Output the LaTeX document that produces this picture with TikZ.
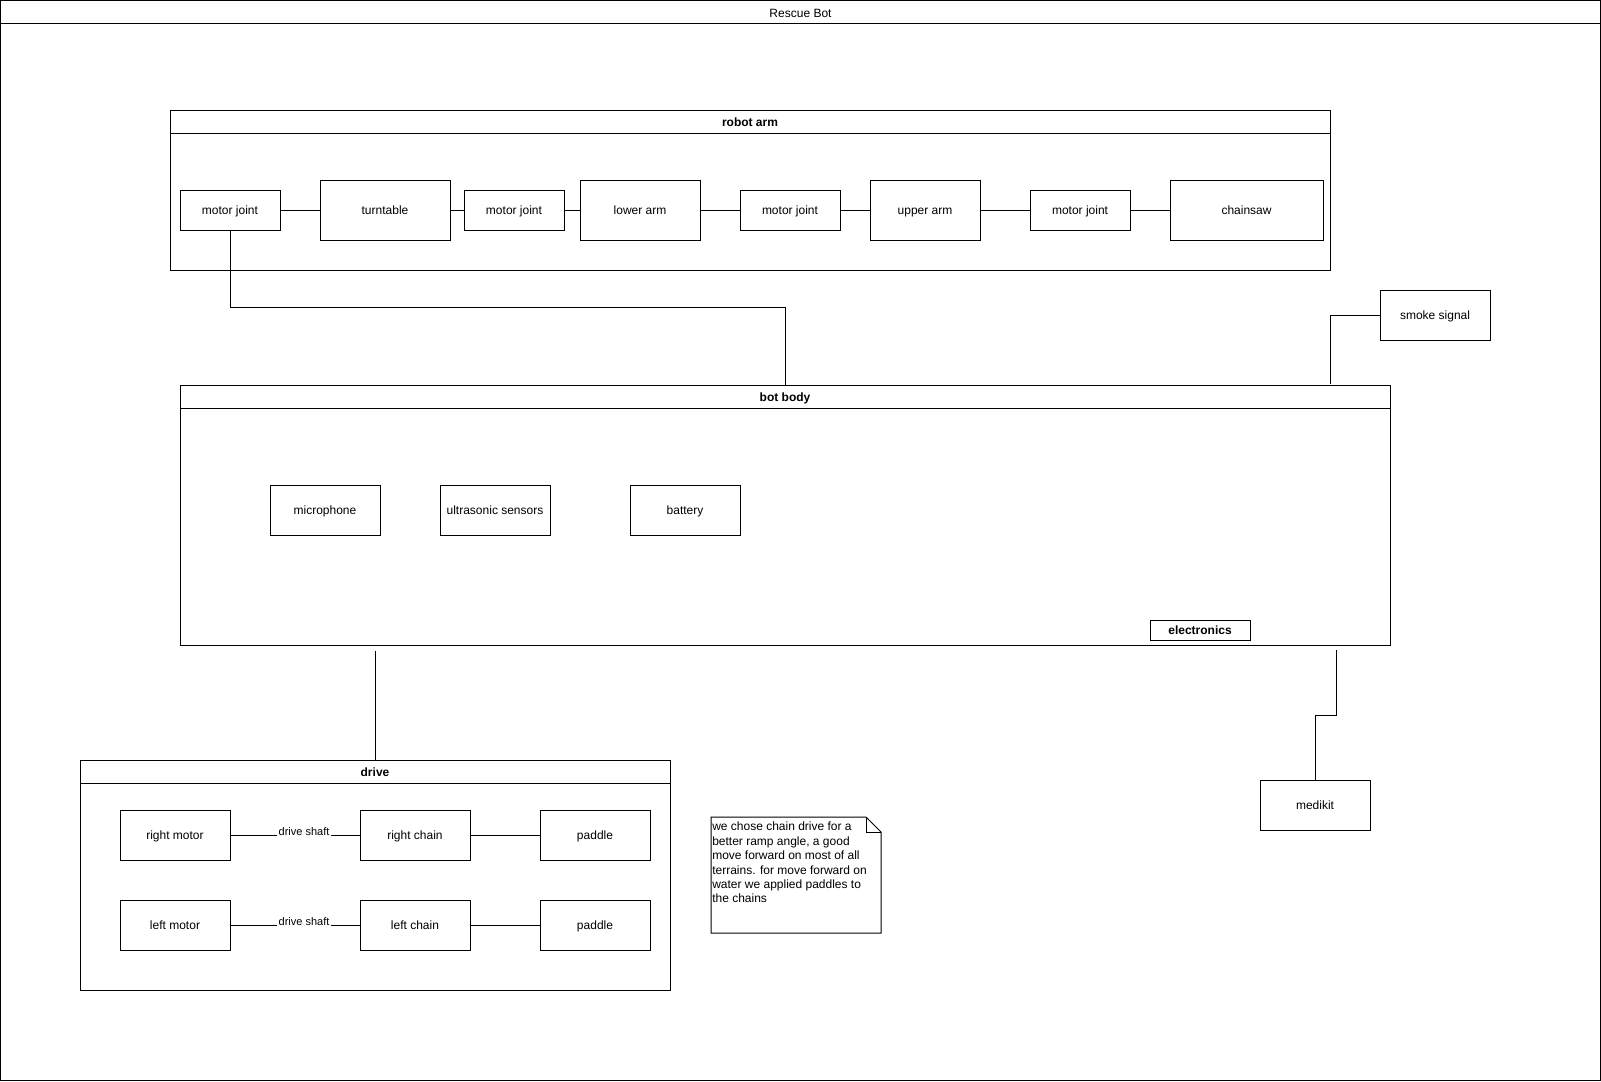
\documentclass[tikz,border=0pt]{standalone}
\usepackage{fontspec}
\setmainfont{Liberation Sans}
\begin{document}
\begin{tikzpicture}[x=0.75pt,y=-0.75pt,
  every node/.style={font=\fontsize{9}{10.8}\selectfont, inner sep=0pt},
  sz/.style 2 args={minimum width=#1*0.75pt, minimum height=#2*0.75pt},
  box/.style={draw, line width=0.75pt, rectangle, align=center,
              text height=7.7pt, text depth=0.5pt},
  joint/.style={box, sz={100}{40}},
  part/.style={box, sz={110}{50}},
  head/.style={box, anchor=north, text height=8.6pt, text depth=0.4pt,
               font=\fontsize{9}{10.8}\selectfont\bfseries},
  link/.style={line width=0.75pt},
  shaft/.style={fill=white, inner sep=1pt, anchor=south, yshift=-2pt,
                font=\fontsize{8.25}{9.9}\selectfont}
]
\useasboundingbox (0,0) rectangle (1601,1081);

% outer frame with title bar
\node[box, sz={1600}{1080}] (frame) at (800.5,540.5) {};
\node[box, anchor=north, sz={1600}{23}, text height=8.6pt, text depth=0.4pt] (framehead) at (frame.north) {Rescue Bot};

% robot arm container
\node[box, sz={1160}{160}] (arm) at (750,190) {};
\node[head, sz={1160}{23}] (armhead) at (arm.north) {robot arm};
\node[joint] (mj1) at (230,210) {motor joint};
\node[box, sz={130}{60}] (turn) at (385,210) {turntable};
\node[joint] (mj2) at (514,210) {motor joint};
\node[box, sz={120}{60}] (lower) at (640,210) {lower arm};
\node[joint] (mj3) at (790,210) {motor joint};
\node[box, sz={110}{60}] (upper) at (925,210) {upper arm};
\node[joint] (mj4) at (1080,210) {motor joint};
\node[box, sz={153}{60}] (saw) at (1246.5,210) {chainsaw};
\draw[link] (mj1) -- (turn);
\draw[link] (turn) -- (mj2);
\draw[link] (mj2) -- (lower);
\draw[link] (lower) -- (mj3);
\draw[link] (mj3) -- (upper);
\draw[link] (upper) -- (mj4);
\draw[link] (mj4) -- (saw);

% bot body container
\node[box, sz={1210}{260}] (body) at (785,515) {};
\node[head, sz={1210}{23}] (bodyhead) at (body.north) {bot body};
\node[part] (mic) at (325,510) {microphone};
\node[part] (ultra) at (495,510) {ultrasonic sensors};
\node[part] (bat) at (685,510) {battery};
\node[box, sz={100}{20}, font=\fontsize{9}{10.8}\selectfont\bfseries] (elec) at (1200,630) {electronics};

% arm mounted on the body
\draw[link] (mj1.south) -- ++(0,77) -| (body.north);

% smoke signal
\node[part] (smoke) at (1435,315) {smoke signal};
\coordinate (smokeend) at (1330,384);
\draw[link] (smoke.west) -| (smokeend);

% medikit
\node[part] (medi) at (1315,805) {medikit};
\coordinate (mediend) at (1336,650);
\draw[link] (mediend) -- (1336,715) -| (medi.north);

% drive container
\node[box, sz={590}{230}] (drive) at (375,875) {};
\node[head, sz={590}{23}] (drivehead) at (drive.north) {drive};
\coordinate (driveend) at (375,651);
\draw[link] (driveend) -- (drive.north);

\node[part] (rmotor) at (175,835) {right motor};
\node[part] (rchain) at (415,835) {right chain};
\node[part] (rpad) at (595,835) {paddle};
\node[part] (lmotor) at (175,925) {left motor};
\node[part] (lchain) at (415,925) {left chain};
\node[part] (lpad) at (595,925) {paddle};
\draw[link] (rmotor) -- (rchain) node[shaft, pos=0.57] (ds1) {drive shaft};
\draw[link] (lmotor) -- (lchain) node[shaft, pos=0.57] (ds2) {drive shaft};
\draw[link] (rchain) -- (rpad);
\draw[link] (lchain) -- (lpad);

% note with folded corner
\draw[link] (711,817) -- (866,817) -- (881,832) -- (881,933) -- (711,933) -- cycle;
\draw[link] (866,817) -- (866,832) -- (881,832);
\node[anchor=north west, align=left] (note) at (712,822)
  {we chose chain drive for a\\better ramp angle, a good\\move forward on most of all\\terrains. for move forward on\\water we applied paddles to\\the chains};
\end{tikzpicture}
\end{document}
